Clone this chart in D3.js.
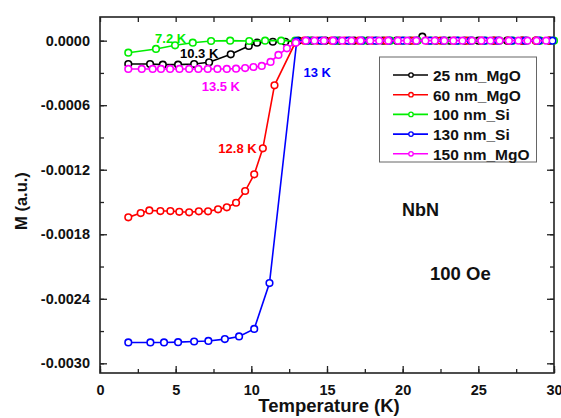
<!DOCTYPE html>
<html>
<meta charset="utf-8">
<script src="https://cdn.jsdelivr.net/npm/d3@7"></script>
<style>
  body { margin: 0; background: #fff; }
  svg text { font-family: "Liberation Sans", Arial, sans-serif; font-weight: bold; }
</style>
<body>
<div id="plot_area"></div>
<script>

// ---- data (T in K, M in a.u.) ----
var seriesNames = ["25 nm_MgO", "60 nm_MgO", "100 nm_Si", "130 nm_Si", "150 nm_MgO"];
var seriesColors = ["#000000", "#ff0000", "#00ee00", "#0000ff", "#ff00ff"];

var t25 = [1.87, 3.31, 4.15, 5.16, 6.22, 7.21, 8.64, 9.83, 10.38, 11.42, 12.24, 13.1, 14.0, 14.9, 15.8, 16.8, 17.7, 18.7, 19.6, 20.5, 21.3, 22.2, 23.1, 24.1, 25.0, 26.0, 26.9, 27.9, 28.8, 29.7];
var m25 = [-0.000217, -0.000217, -0.000223, -0.000223, -0.000217, -0.000201, -0.000127, -0.000049, -0.000019, -0.000010, -0.000010, 0, 0, 0, 0, 0, 0, 0, 0, 0, 0.000037, 0, 0, 0, 0, 0, 0, 0, 0, 0];

var t60 = [1.87, 2.69, 3.26, 3.99, 4.65, 5.24, 5.89, 6.53, 7.14, 7.80, 8.38, 8.99, 9.59, 10.19, 10.76, 11.53, 12.9, 13.5, 14.4, 15.3, 16.2, 17.1, 18.0, 18.9, 19.8, 20.7, 21.6, 22.5, 23.4, 24.3, 25.2, 26.1, 27.0, 27.9, 28.8, 29.7];
var m60 = [-0.001643, -0.001603, -0.001578, -0.001584, -0.001584, -0.001591, -0.001596, -0.001587, -0.001587, -0.001568, -0.001550, -0.001507, -0.001398, -0.001243, -0.001001, -0.000415, -0.000020, 0, 0, 0, 0, 0, 0, 0, 0, 0, 0, 0, 0, 0, 0, 0, 0, 0, 0, 0];

var t100 = [1.87, 3.70, 4.96, 6.13, 7.34, 8.60, 9.86, 10.91, 11.97, 12.9, 13.8, 14.7, 15.6, 16.5, 17.4, 18.3, 19.2, 20.1, 21.0, 21.9, 22.8, 23.7, 24.6, 25.5, 26.4, 27.3, 28.2, 29.1, 30.0];
var m100 = [-0.000112, -0.000077, -0.000043, -0.000019, -0.000003, 0, -0.000003, 0, 0, 0, 0, 0, 0, 0, 0, 0, 0, 0, 0, 0, 0, 0, 0, 0, 0, 0, 0, 0, 0];

var t130 = [1.87, 3.33, 4.23, 5.16, 6.22, 7.16, 8.25, 9.19, 10.19, 11.20, 13.0, 13.7, 14.6, 15.5, 16.4, 17.3, 18.2, 19.1, 20.0, 20.9, 21.8, 22.7, 23.6, 24.5, 25.4, 26.3, 27.2, 28.1, 29.0, 29.9];
var m130 = [-0.002806, -0.002806, -0.002806, -0.002803, -0.002797, -0.002792, -0.002775, -0.002750, -0.002680, -0.002254, -0.000005, 0, 0, 0, 0, 0, 0, 0, 0, 0, 0, 0, 0, 0, 0, 0, 0, 0, 0, 0];

var t150 = [1.87, 2.76, 3.48, 4.03, 4.63, 5.25, 5.89, 6.50, 7.12, 7.76, 8.38, 8.99, 9.59, 10.14, 10.69, 11.27, 11.79, 12.35, 12.94, 13.60, 14.17, 14.80, 15.40, 16.00, 16.62, 17.22, 17.85, 18.45, 19.05, 19.68, 20.30, 20.90, 21.50, 22.12, 22.75, 23.35, 23.95, 24.58, 25.20, 25.80, 26.40, 27.02, 27.65, 28.25, 28.85, 29.48];
var m150 = [-0.000263, -0.000263, -0.000263, -0.000263, -0.000263, -0.000263, -0.000263, -0.000263, -0.000263, -0.000263, -0.000263, -0.000260, -0.000255, -0.000245, -0.000235, -0.000198, -0.000133, -0.000071, -0.000019, 0, 0, 0, 0, 0, 0, 0, 0, 0, 0, 0, 0, 0, 0, 0, 0, 0, 0, 0, 0, 0, 0, 0, 0, 0, 0, 0];

var xTicks = [0, 5, 10, 15, 20, 25, 30];
var yTicks = [0, -0.0006, -0.0012, -0.0018, -0.0024, -0.0030];

var notes = [
  {text: "7.2 K",  T: 3.64,  M: -0.000026, color: "#00ee00"},
  {text: "10.3 K", T: 5.29,  M: -0.000164, color: "#000000"},
  {text: "13.5 K", T: 6.72,  M: -0.000468, color: "#ff00ff"},
  {text: "12.8 K", T: 7.82,  M: -0.001045, color: "#ff0000"},
  {text: "13 K",   T: 13.45, M: -0.000338, color: "#0000ff"}
];

var tAll = [t25, t60, t100, t130, t150];
var mAll = [m25, m60, m100, m130, m150];

// ---- layout ----
var W = 561, H = 418;
var padL = 100, padR = 554, padT = 17, padB = 373;

var svg = d3.select("#plot_area")
  .append("svg")
    .attr("width", W)
    .attr("height", H);

var x = d3.scaleLinear().domain([0, 30]).range([padL, padR]);
var y = d3.scaleLinear().domain([-0.00309, 0.00022]).range([padB, padT]);

var fmtY = function(d) { return d === 0 ? "0.0000" : d3.format(".4f")(d).replace("\u2212", "-"); };
var minorX = d3.range(0, 31, 2.5);
var minorY = [-0.0030, -0.0027, -0.0024, -0.0021, -0.0018, -0.0015, -0.0012, -0.0009, -0.0006, -0.0003, 0];

// bottom axis
svg.append("g")
  .attr("transform", "translate(0," + padB + ")")
  .call(d3.axisBottom(x).tickValues(minorX).tickSize(-4).tickFormat(""));
svg.append("g")
  .attr("transform", "translate(0," + padB + ")")
  .call(d3.axisBottom(x).tickValues(xTicks).tickSizeInner(-7).tickSizeOuter(0).tickPadding(11.5).tickFormat(d3.format("d")))
  .selectAll("text").style("font-size", "14.5px");
// top axis
svg.append("g")
  .attr("transform", "translate(0," + padT + ")")
  .call(d3.axisTop(x).tickValues(minorX).tickSize(-5).tickFormat(""));
// left axis
svg.append("g")
  .attr("transform", "translate(" + padL + ",0)")
  .call(d3.axisLeft(y).tickValues(minorY).tickSize(-4).tickFormat(""));
svg.append("g")
  .attr("transform", "translate(" + padL + ",0)")
  .call(d3.axisLeft(y).tickValues(yTicks).tickSizeInner(-7).tickSizeOuter(0).tickPadding(10).tickFormat(fmtY))
  .selectAll("text").style("font-size", "14.5px");
// right axis
svg.append("g")
  .attr("transform", "translate(" + padR + ",0)")
  .call(d3.axisRight(y).tickValues(minorY).tickSize(-4).tickFormat(""));
svg.append("g")
  .attr("transform", "translate(" + padR + ",0)")
  .call(d3.axisRight(y).tickValues(yTicks).tickSize(-7).tickFormat(""));

svg.selectAll(".domain").remove();
svg.selectAll(".tick line").attr("stroke", "#222").attr("stroke-width", 1.3);
svg.selectAll(".tick text").attr("fill", "#111");

// frame
svg.append("rect")
  .attr("x", padL).attr("y", padT)
  .attr("width", padR - padL).attr("height", padB - padT)
  .attr("fill", "none").attr("stroke", "#222").attr("stroke-width", 1.6);

// axis titles
svg.append("text")
  .attr("x", 329).attr("y", 411.5)
  .attr("text-anchor", "middle")
  .style("font-size", "18.5px").attr("fill", "#111")
  .text("Temperature (K)");
svg.append("text")
  .attr("transform", "translate(27,201) rotate(-90)")
  .attr("text-anchor", "middle")
  .style("font-size", "16.5px").attr("fill", "#111")
  .text("M (a.u.)");

// series
var line = d3.line().x(function(d) { return x(d[0]); }).y(function(d) { return y(d[1]); });
var plot = svg.append("g");
seriesNames.forEach(function(name, i) {
  var pts = tAll[i].map(function(t, j) { return [t, mAll[i][j]]; });
  plot.append("path")
    .datum(pts)
    .attr("d", line)
    .attr("fill", "none")
    .attr("stroke", seriesColors[i])
    .attr("stroke-width", 1.6);
  plot.selectAll(".dot" + i)
    .data(pts)
    .enter()
    .append("circle")
      .attr("cx", function(d) { return x(d[0]); })
      .attr("cy", function(d) { return y(d[1]); })
      .attr("r", 3.3)
      .attr("fill", "#fff")
      .attr("stroke", seriesColors[i])
      .attr("stroke-width", 1.6);
});

// annotations
svg.selectAll(".note")
  .data(notes)
  .enter()
  .append("text")
    .attr("x", function(d) { return x(d.T); })
    .attr("y", function(d) { return y(d.M); })
    .attr("fill", function(d) { return d.color; })
    .style("font-size", "13px")
    .text(function(d) { return d.text; });

svg.append("text").attr("x", 402).attr("y", 216).style("font-size", "18px").attr("fill", "#111").text("NbN");
svg.append("text").attr("x", 430).attr("y", 279.5).style("font-size", "18.5px").attr("fill", "#111").text("100 Oe");

// legend
var lg = svg.append("g");
lg.append("rect")
  .attr("x", 379.5).attr("y", 57).attr("width", 157).attr("height", 105)
  .attr("fill", "#fff").attr("stroke", "#666").attr("stroke-width", 1);
seriesNames.forEach(function(name, i) {
  var yy = 75 + i * 19.7;
  lg.append("line")
    .attr("x1", 393).attr("x2", 428).attr("y1", yy).attr("y2", yy)
    .attr("stroke", seriesColors[i]).attr("stroke-width", 1.6);
  lg.append("circle")
    .attr("cx", 411).attr("cy", yy).attr("r", 2.2)
    .attr("fill", "#fff").attr("stroke", seriesColors[i]).attr("stroke-width", 1.3);
  lg.append("text")
    .attr("x", 433).attr("y", yy + 6)
    .style("font-size", "15.5px").attr("fill", "#111")
    .text(name);
});

</script>
</body>
</html>
